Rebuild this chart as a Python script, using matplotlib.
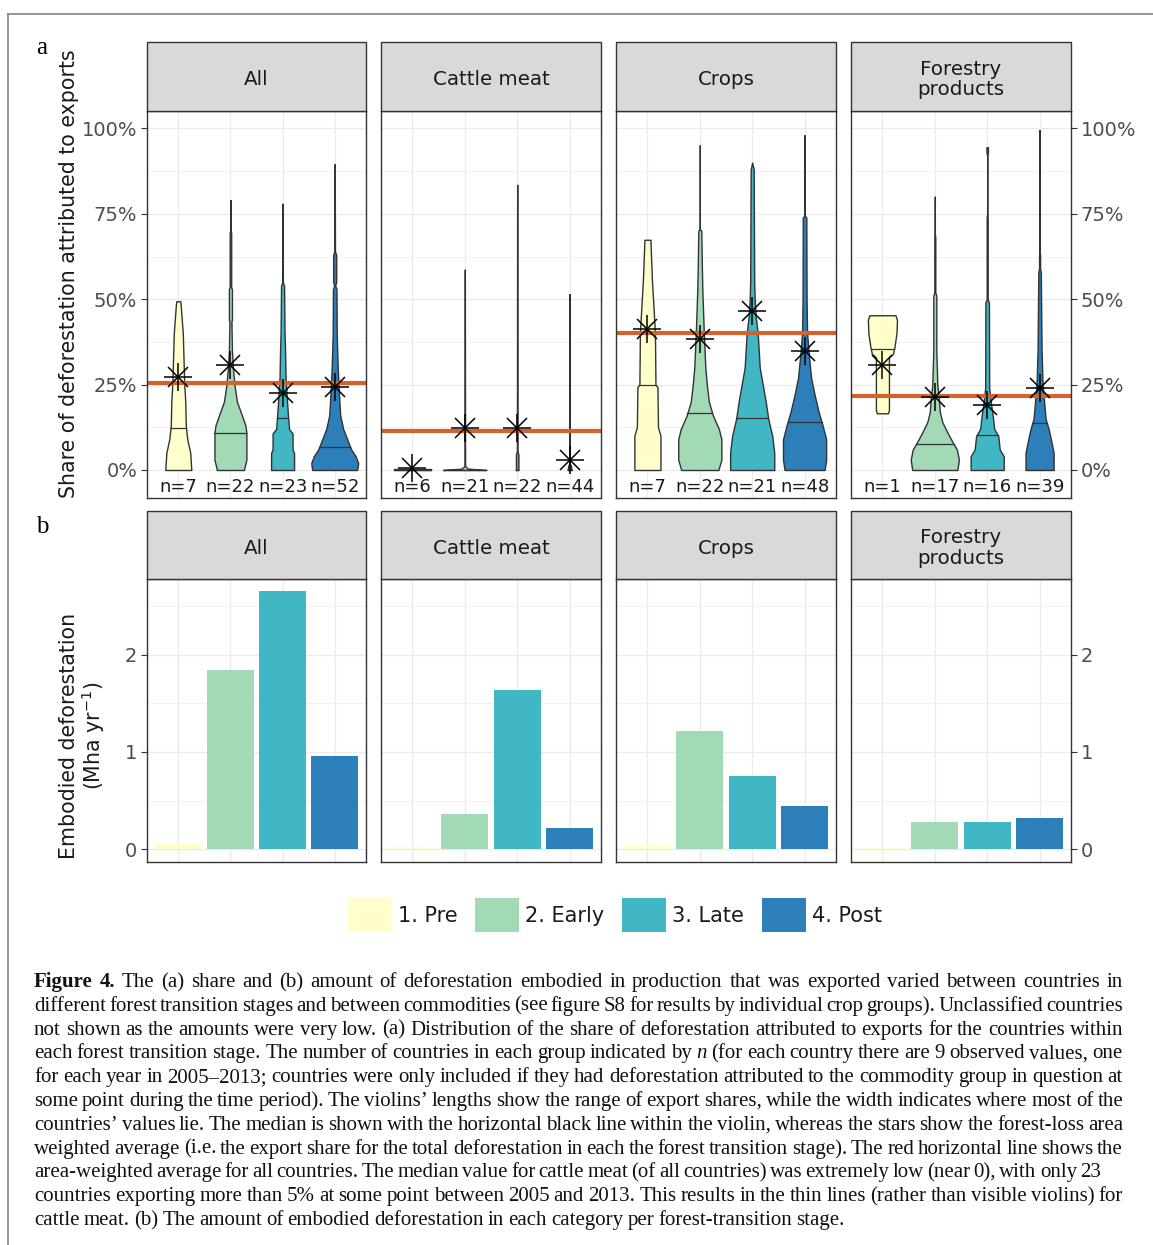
import numpy as np
import matplotlib
matplotlib.use("Agg")
import matplotlib.pyplot as plt
from matplotlib.patches import Rectangle, Patch
from matplotlib.ticker import FuncFormatter

W, H, DPI = 1153, 1245, 100
plt.rcParams['font.family'] = ['DejaVu Sans']
plt.rcParams['mathtext.default'] = 'regular'

# ---------------- data ----------------
stages = ["1. Pre", "2. Early", "3. Late", "4. Post"]
commodities = ["All", "Cattle meat", "Crops", "Forestry\nproducts"]
stage_colors = ["#FFFFCC", "#A1DAB4", "#41B6C4", "#2C7FB8"]

n_countries = [[7, 22, 23, 52], [6, 21, 22, 44], [7, 22, 21, 48], [1, 17, 16, 39]]
# forest-loss area weighted average share (%), stars
weighted_share = [[27.3, 30.7, 22.5, 24.3], [0.6, 12.4, 12.4, 2.9],
                  [41.2, 38.3, 46.5, 34.9], [30.7, 21.4, 19.0, 24.0]]
# medians (%)
median_share = [[12.4, 10.7, 15.2, 6.8], [0, 0, 0, 0],
                [24.8, 16.6, 15.2, 14.1], [35.4, 7.6, 10.2, 13.8]]
# area-weighted average for all countries (%), red line
overall_share = [25.5, 11.4, 40.0, 21.6]
# embodied deforestation (Mha / yr)
embodied = [[0.05, 1.845, 2.657, 0.96], [0.02, 0.36, 1.64, 0.22],
            [0.034, 1.22, 0.754, 0.445], [0.01, 0.284, 0.284, 0.319]]

# violin density profiles: (share levels in %, relative density)
violin_all = [
    ([0, 5, 9, 13, 20, 25, 40, 48, 49.4], [26, 24, 18, 15, 14, 12, 9, 5, 4]),
    ([0, 3, 11, 13, 16, 20, 25, 30, 35, 43.5, 44, 53, 53.5, 69.5, 70, 79],
     [27, 32, 32, 30, 23, 13, 8, 5, 3, 2, 3, 3, 1.5, 1.5, 0, 0]),
    ([0, 5, 6, 10.7, 12, 15.6, 20, 27, 35, 40, 54, 55, 78],
     [23, 23, 20, 20, 13, 11, 9, 6, 5, 4, 3, 0.5, 0]),
    ([0, 2, 4, 6, 9, 12, 16, 21, 30, 40, 53, 54, 55, 63, 64, 89.6],
     [45, 47, 42, 33, 25, 17, 11, 9, 6, 4, 3.5, 1, 3, 3, 0.5, 0]),
]
violin_cattle = [
    ([0, 0.3], [37, 37]),
    ([0, 0.4, 1.2, 58.7], [43, 6, 0.5, 0]),
    ([0, 4.5, 5.5, 83.5], [2.5, 2.5, 0.5, 0]),
    ([0, 1, 2, 51.5], [4, 3, 0.5, 0]),
]
violin_crops = [
    ([0, 10, 12.6, 24.3, 25, 40, 48, 55.5, 63.3, 67.4], [26, 26, 21, 20, 16, 15, 12, 9, 7, 6]),
    ([0, 3, 9, 12, 16, 20, 25, 30, 40, 53, 60, 70, 70.5, 95],
     [37, 43, 43, 38, 26, 18, 14, 11, 8, 5, 4, 3, 0, 0]),
    ([0, 5, 10, 15, 20, 25, 30, 40, 45, 50, 55, 88, 90],
     [44, 44, 40, 32, 27, 21, 15, 11, 7, 5, 4, 3, 0]),
    ([0, 3, 9, 13, 17, 22, 27, 33, 40, 50, 74, 74.5, 98],
     [40, 43, 43, 36, 28, 20, 13, 9, 5, 4, 3.5, 0, 0]),
]
violin_forestry = [
    ([16.6, 17.5, 33, 34, 36, 40, 44, 45.3], [11, 13, 13, 21, 24, 28, 29, 26]),
    ([0, 3, 6, 8, 11, 14, 17, 21, 25, 35, 51, 52, 68, 69, 80],
     [45, 48, 44, 36, 25, 15, 10, 8, 5, 3, 3, 1, 1, 0, 0]),
    ([0, 4, 6, 10, 12, 16, 20, 24, 49, 50, 74, 75, 92, 93, 94.5],
     [33, 33, 25, 22, 14, 11, 7, 4, 3.5, 1, 1, 0, 0, 1.5, 1.5]),
    ([0, 5, 8, 12, 15, 20, 25, 35, 50, 58, 59, 63, 64, 99.5],
     [28, 28, 24, 18, 12, 9, 6, 4, 3, 2.5, 1, 1, 0, 0]),
]
violins = [violin_all, violin_cattle, violin_crops, violin_forestry]

caption_lines = [
    "Figure 4. The (a) share and (b) amount of deforestation embodied in production that was exported varied between countries in",
    "different forest transition stages and between commodities (see figure S8 for results by individual crop groups). Unclassified countries",
    "not shown as the amounts were very low. (a) Distribution of the share of deforestation attributed to exports for the countries within",
    "each forest transition stage. The number of countries in each group indicated by n (for each country there are 9 observed values, one",
    "for each year in 2005\u20132013; countries were only included if they had deforestation attributed to the commodity group in question at",
    "some point during the time period). The violins\u2019 lengths show the range of export shares, while the width indicates where most of the",
    "countries\u2019 values lie. The median is shown with the horizontal black line within the violin, whereas the stars show the forest-loss area",
    "weighted average (i.e. the export share for the total deforestation in each the forest transition stage). The red horizontal line shows the",
    "area-weighted average for all countries. The median value for cattle meat (of all countries) was extremely low (near 0), with only 23",
    "countries exporting more than 5% at some point between 2005 and 2013. This results in the thin lines (rather than visible violins) for",
    "cattle meat. (b) The amount of embodied deforestation in each category per forest-transition stage.",
]

# ---------------- layout ----------------
fig = plt.figure(figsize=(W / DPI, H / DPI), dpi=DPI)
fig.patch.set_facecolor('white')


def frect(l, t, r, b):
    return [l / W, 1 - b / H, (r - l) / W, (b - t) / H]


cols_px = [(147, 366), (381, 601), (616, 836), (851, 1071)]
EDGE = '#333333'
xpos = np.arange(1, 5)
VSCALE = 0.9 / 47.0


def style_axes(ax, i, ylim, major, minor, fmt):
    ax.set_xlim(0.4, 4.6)
    ax.set_ylim(*ylim)
    ax.set_xticks(xpos)
    ax.set_yticks(major)
    ax.set_yticks(minor, minor=True)
    ax.grid(which='major', color='#EBEBEB', lw=1.0, zorder=0)
    ax.grid(which='minor', axis='y', color='#EBEBEB', lw=0.5, zorder=0)
    ax.set_axisbelow(True)
    for s in ax.spines.values():
        s.set_color(EDGE)
        s.set_linewidth(1.0)
        s.set_zorder(10)
    ax.tick_params(axis='x', length=0, labelbottom=False)
    ax.tick_params(axis='y', which='minor', length=0)
    ax.tick_params(axis='y', which='major', length=4.5, width=0.8, color=EDGE,
                   labelcolor='#4D4D4D', labelsize=14, pad=2.5)
    ax.yaxis.set_major_formatter(FuncFormatter(fmt))
    if i == 0:
        ax.tick_params(axis='y', left=True, labelleft=True, right=False, labelright=False)
    elif i == 3:
        ax.tick_params(axis='y', left=False, labelleft=False, right=True, labelright=True)
    else:
        ax.tick_params(axis='y', left=False, labelleft=False, right=False, labelright=False)


def strip(l, t, r, b, label):
    fig.add_artist(Rectangle((l / W, 1 - b / H), (r - l) / W, (b - t) / H,
                             transform=fig.transFigure, facecolor='#D9D9D9',
                             edgecolor=EDGE, lw=1.0))
    fig.text((l + r) / 2 / W, 1 - ((t + b) / 2 + 3) / H, label, ha='center', va='center',
             fontsize=14.3, color='#1A1A1A', linespacing=1.12)


# ----- panel a: violins -----
for i, (l, r) in enumerate(cols_px):
    strip(l, 42, r, 111, commodities[i])
    ax = fig.add_axes(frect(l, 111, r, 498))
    style_axes(ax, i, (-8.2, 105.1), [0, 25, 50, 75, 100], [12.5, 37.5, 62.5, 87.5],
               lambda v, p: f"{v:.0f}%")
    for j in range(4):
        ys, dens = violins[i][j]
        ys = np.array(ys, float)
        hw = np.array(dens, float) * VSCALE / 2
        c = xpos[j]
        ax.fill_betweenx(ys, c - hw, c + hw, facecolor=stage_colors[j],
                         edgecolor=EDGE, lw=1.0, zorder=2)
        m = median_share[i][j]
        mh = np.interp(m, ys, hw) if ys[0] <= m <= ys[-1] else 0
        ax.plot([c - mh, c + mh], [m, m], color=EDGE, lw=0.9, zorder=3)
        ax.text(c, -5.0, f"n={n_countries[i][j]}", ha='center', va='center',
                fontsize=13, color='#1A1A1A', zorder=6)
    ax.axhline(overall_share[i], color='#D2622E', lw=3.0, zorder=4)
    ax.plot(xpos, weighted_share[i], ls='none', marker='+', ms=20, mew=1.1,
            color='black', zorder=5)
    ax.plot(xpos, weighted_share[i], ls='none', marker='x', ms=14, mew=1.1,
            color='black', zorder=5)

# ----- panel b: bars -----
for i, (l, r) in enumerate(cols_px):
    strip(l, 511, r, 579, commodities[i])
    ax = fig.add_axes(frect(l, 579, r, 862))
    style_axes(ax, i, (-0.1325, 2.78), [0, 1, 2], [0.5, 1.5, 2.5],
               lambda v, p: f"{v:.0f}")
    ax.bar(xpos, embodied[i], width=0.9, color=stage_colors, zorder=2)

# axis titles and panel letters
fig.text(69 / W, 1 - 274 / H, "Share of deforestation attributed to exports",
         rotation=90, ha='center', va='center', fontsize=14.8, color='#1A1A1A')
fig.text(83 / W, 1 - 736 / H, "Embodied deforestation\n(Mha yr$^{-1}$)",
         rotation=90, ha='center', va='center', fontsize=14.8, color='#1A1A1A',
         linespacing=1.05, multialignment='center')
fig.text(42 / W, 1 - 48 / H, "a", family='Liberation Serif', fontsize=18,
         ha='center', va='center', color='black')
fig.text(42 / W, 1 - 527 / H, "b", family='Liberation Serif', fontsize=18,
         ha='center', va='center', color='black')

# legend
handles = [Patch(facecolor=c, edgecolor='none', label=s) for c, s in zip(stage_colors, stages)]
fig.legend(handles=handles, loc='center', bbox_to_anchor=(615 / W, 1 - 915 / H),
           ncol=4, frameon=False, fontsize=15, handlelength=2.1, handleheight=2.1,
           handletextpad=0.3, columnspacing=0.85, labelcolor='#1A1A1A')

# frame (top and left border of the figure box)
fig.add_artist(plt.Line2D([8 / W, 1.0], [1 - 14 / H, 1 - 14 / H], transform=fig.transFigure,
                          color='#8C8C8C', lw=1.3))
fig.add_artist(plt.Line2D([8 / W, 8 / W], [1 - 14 / H, 0.0], transform=fig.transFigure,
                          color='#8C8C8C', lw=1.3))

# ----- caption (justified) -----
renderer = fig.canvas.get_renderer()
SERIF = 'Liberation Serif'
CAP_L, CAP_R = 34, 1123
line_right = {8: 1101}
tokens = [ln.split(' ') for ln in caption_lines]


def tok_style(li, ti, tok):
    if li == 0 and ti < 2:
        return dict(weight='bold', style='normal')
    if li == 3 and tok == 'n':
        return dict(weight='normal', style='italic')
    return dict(weight='normal', style='normal')


def measure(s, size, **kw):
    t = fig.text(0, 0, s, family=SERIF, fontsize=size, **kw)
    w = t.get_window_extent(renderer).width
    t.remove()
    return w


base = 10.0
sp_base = measure('x x', base) - measure('xx', base)
ratios = []
for li, toks in enumerate(tokens[:-1]):
    target = line_right.get(li, CAP_R) - CAP_L
    nat = sum(measure(tk, base, **tok_style(li, ti, tk)) for ti, tk in enumerate(toks))
    nat += 0.55 * sp_base * (len(toks) - 1)
    ratios.append(target / nat)
size = base * min(ratios) * 0.995

space = measure('x x', size) - measure('xx', size)
for li, toks in enumerate(tokens):
    y = 987 + li * 23.8
    widths = [measure(tk, size, **tok_style(li, ti, tk)) for ti, tk in enumerate(toks)]
    if li == len(tokens) - 1:
        gap = space * 0.8
    else:
        target = line_right.get(li, CAP_R) - CAP_L
        gap = (target - sum(widths)) / (len(toks) - 1)
    x = CAP_L
    for ti, (tk, w) in enumerate(zip(toks, widths)):
        fig.text(x / W, 1 - y / H, tk, family=SERIF, fontsize=size, ha='left',
                 va='baseline', color='#111111', **tok_style(li, ti, tk))
        x += w + gap

fig.savefig('out.png', dpi=DPI, facecolor='white')
